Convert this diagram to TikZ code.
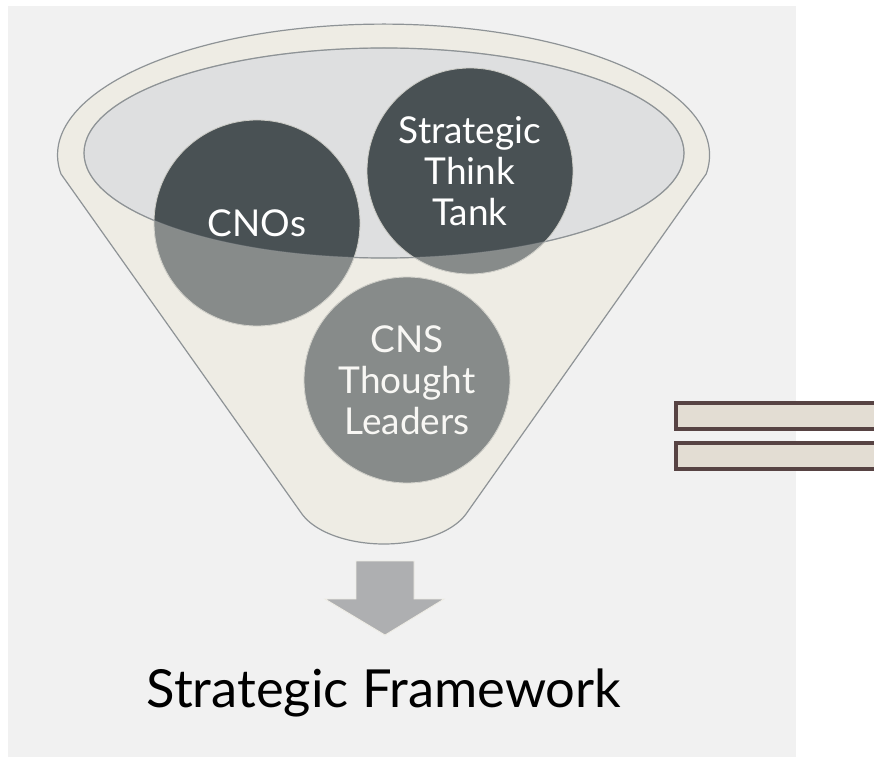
\documentclass[tikz,border=0pt]{standalone}
\usepackage{fontspec}
\setmainfont{Lato}
\begin{document}
\begin{tikzpicture}[x=1pt,y=-1pt]
\definecolor{panel}{HTML}{F1F1F1}
\definecolor{cream}{HTML}{EEECE4}
\definecolor{opening}{HTML}{DEDFE0}
\definecolor{edge}{HTML}{8E9396}
\definecolor{dark}{HTML}{495154}
\definecolor{arrowgray}{HTML}{AEAFB1}
\definecolor{barfill}{HTML}{E3DDD3}
\definecolor{barline}{HTML}{574343}
\tikzset{
  circ/.style={circle, minimum size=206pt, inner sep=0pt, fill=dark, draw=cream!80!dark, line width=0.8pt,
    text=white, align=center, font=\fontsize{37}{41}\selectfont},
  barbox/.style={fill=barfill, draw=barline, line width=4pt, minimum height=26pt, minimum width=214pt, inner sep=0pt},
  titletext/.style={font=\fontsize{52.5}{60}\selectfont, text=black, inner sep=0pt}
}
\useasboundingbox (0,0) rectangle (874,759);
\clip (0,0) rectangle (874,759);
\fill[panel] (8,6) rectangle (796,757);
% funnel body
\filldraw[fill=cream, draw=edge, line width=1.2pt]
  (61,174) arc[start angle=188.3, end angle=-8.3, x radius=326pt, y radius=131pt]
  -- (466.3,513.6) arc[start angle=339.3, end angle=200.7, x radius=88pt, y radius=47pt]
  -- cycle;
% opening
\filldraw[fill=opening, draw=edge, line width=1.2pt] (384,153) ellipse [x radius=300pt, y radius=105pt];
% circles
\node[circ] (cno) at (257,223) {CNOs};
\node[circ] (stt) at (470,171) {Strategic\\Think\\Tank};
\node[circ] (cns) at (407,380) {CNS\\Thought\\Leaders};
% front of funnel seen through
\begin{scope}
  \clip (257,223) circle [radius=103pt] (470,171) circle [radius=103pt] (407,380) circle [radius=103pt];
  \fill[cream, opacity=0.38, even odd rule] (0,0) rectangle (874,759) (384,153) ellipse [x radius=300pt, y radius=105pt];
\end{scope}
\draw[edge, line width=1pt, opacity=0.45] (384,153) ellipse [x radius=300pt, y radius=105pt];
% arrow
\filldraw[fill=arrowgray, draw=cream, line width=0.8pt]
  (356,561) -- (414,561) -- (414,599) -- (444,599) -- (385,635) -- (325,599) -- (356,599) -- cycle;
% title
\node[titletext, anchor=base] (title) at (384,707) {Strategic Framework};
% bars
\node[barbox, anchor=north west] (bar1) at (674,401) {};
\node[barbox, anchor=north west] (bar2) at (674,441) {};
\end{tikzpicture}
\end{document}
